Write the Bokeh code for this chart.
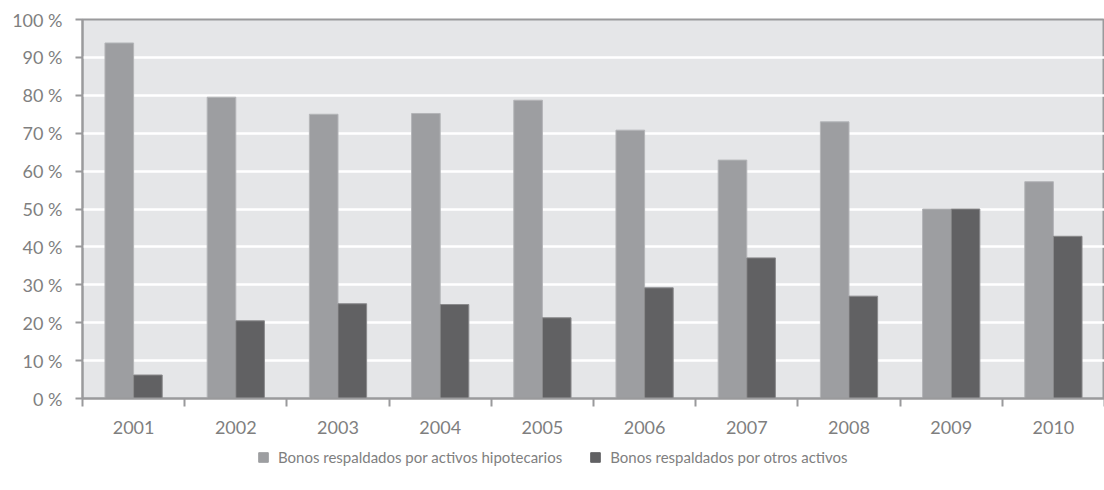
from bokeh.plotting import figure
from bokeh.models import Range1d, FixedTicker, Legend, LegendItem, ColumnDataSource
from bokeh.layouts import column
from bokeh.embed import file_html
from bokeh.resources import INLINE

years = ["2001", "2002", "2003", "2004", "2005", "2006", "2007", "2008", "2009", "2010"]
hipotecarios = [93.8, 79.5, 75.0, 75.2, 78.7, 70.8, 62.9, 73.0, 50.0, 57.2]
otros = [6.2, 20.5, 25.0, 24.8, 21.3, 29.2, 37.1, 27.0, 50.0, 42.8]
y_ticks = [0, 10, 20, 30, 40, 50, 60, 70, 80, 90, 100]
series_names = ["Bonos respaldados por activos hipotecarios", "Bonos respaldados por otros activos"]

FONT = "Lato"
TXT = "#7f7f7f"
AX = "#9a9a9c"
LIGHT = "#9d9ea1"
DARK = "#616163"
BG = "#e5e6e8"
BW = 0.28

p = figure(width=1104, height=440, output_backend="svg", toolbar_location=None,
           x_range=Range1d(0, len(years)), y_range=Range1d(0, 100),
           min_border_left=82, min_border_right=0, min_border_top=19, min_border_bottom=42)
p.background_fill_color = BG
p.border_fill_color = "white"
p.outline_line_color = AX
p.outline_line_width = 2

centers = [i + 0.5 for i in range(len(years))]
r1 = p.vbar(x=[c - BW / 2 for c in centers], top=hipotecarios, width=BW, bottom=0,
            fill_color=LIGHT, line_color="#b4b5b8", line_width=1)
r2 = p.vbar(x=[c + BW / 2 for c in centers], top=otros, width=BW, bottom=0,
            fill_color=DARK, line_color="#8a8a8c", line_width=1)

# grids
p.xgrid.grid_line_color = None
p.ygrid.grid_line_color = "white"
p.ygrid.grid_line_width = 2.5

# x axis
xa = p.xaxis[0]
xa.ticker = FixedTicker(ticks=centers, minor_ticks=list(range(len(years) + 1)))
xa.major_label_overrides = {c: y for c, y in zip(centers, years)}
xa.major_tick_out = 0
xa.major_tick_in = 0
xa.minor_tick_out = 8
xa.minor_tick_in = 0
xa.minor_tick_line_color = AX
xa.minor_tick_line_width = 2
xa.axis_line_color = AX
xa.axis_line_width = 2
xa.major_label_standoff = 14
xa.major_label_text_font = FONT
xa.major_label_text_font_size = "18px"
xa.major_label_text_color = TXT

# y axis
ya = p.yaxis[0]
ya.ticker = FixedTicker(ticks=y_ticks, minor_ticks=[])
ya.major_label_overrides = {v: f"{v} %" for v in y_ticks}
ya.major_tick_out = 7
ya.major_tick_in = 0
ya.major_tick_line_color = AX
ya.major_tick_line_width = 2
ya.axis_line_color = AX
ya.axis_line_width = 2
ya.major_label_standoff = 13
ya.major_label_text_font = FONT
ya.major_label_text_font_size = "18px"
ya.major_label_text_color = TXT

# legend strip (its renderers hold one point outside the visible range,
# so only their legend swatches show)
lf = figure(width=1104, height=50, output_backend="svg", toolbar_location=None,
            x_range=Range1d(0, 1), y_range=Range1d(0, 1),
            x_axis_location=None, y_axis_location=None,
            min_border_left=0, min_border_right=0, min_border_top=0, min_border_bottom=0)
lf.outline_line_color = None
lf.xgrid.grid_line_color = None
lf.ygrid.grid_line_color = None
hidden = ColumnDataSource(data=dict(x=[-5], top=[-5], bottom=[-6]))
l1 = lf.vbar(x="x", top="top", bottom="bottom", width=0.1, source=hidden,
             fill_color=LIGHT, line_color=LIGHT)
l2 = lf.vbar(x="x", top="top", bottom="bottom", width=0.1, source=hidden,
             fill_color=DARK, line_color=DARK)

legend = Legend(items=[LegendItem(label=series_names[0], renderers=[l1]),
                       LegendItem(label=series_names[1], renderers=[l2])],
                orientation="horizontal", location=(175, 24),
                glyph_width=12, glyph_height=12, label_standoff=9, spacing=27,
                label_width=280,
                padding=0, margin=0, border_line_color=None, background_fill_alpha=0,
                label_text_font=FONT, label_text_font_size="15px", label_text_color=TXT)
lf.add_layout(legend, "center")

open("out.html", "w").write(file_html(column(p, lf, spacing=0), INLINE))
